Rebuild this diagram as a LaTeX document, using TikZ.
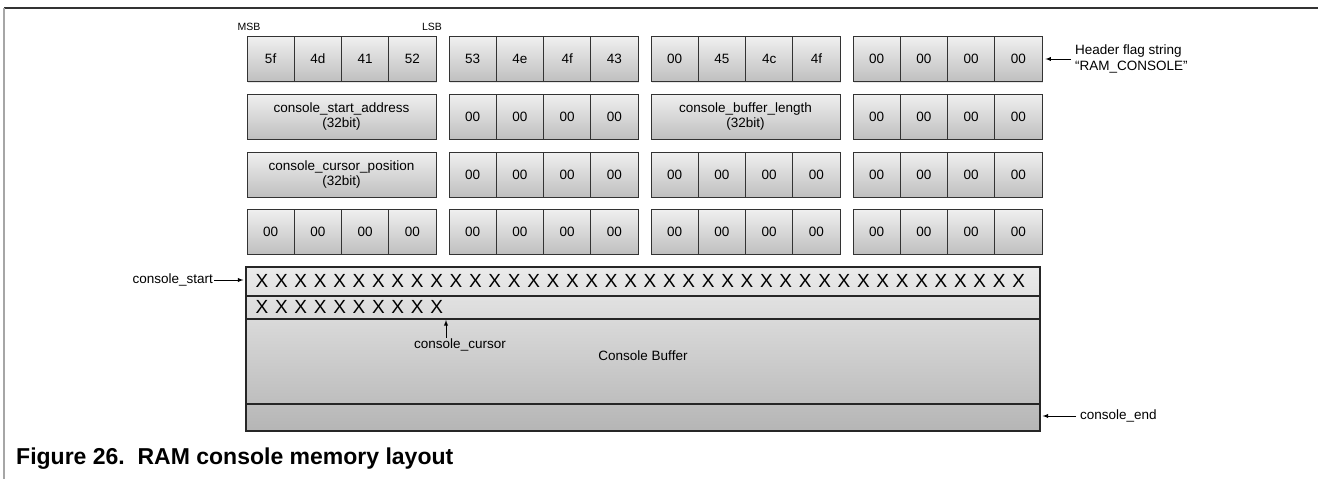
\documentclass[tikz,border=0pt]{standalone}
\usepackage{fontspec}
\setmainfont{Liberation Sans}
\usetikzlibrary{positioning,calc,arrows,shadows}
\tikzset{>=latex}
\tikzset{
  cellshade/.style={draw=black!80, line width=0.8pt, top color=black!6, bottom color=black!25,
    drop shadow={opacity=0.2, shadow xshift=1pt, shadow yshift=-1.2pt}},
  bytecell/.style={cellshade, minimum width=47.25pt, minimum height=45pt, inner sep=0pt,
    font=\fontsize{13.5}{15}\selectfont},
  fieldbox/.style={cellshade, minimum width=189pt, minimum height=45pt, inner sep=0pt,
    align=center, font=\fontsize{13.5}{15.5}\selectfont},
  note/.style={inner sep=0pt, font=\fontsize{13.5}{15.5}\selectfont},
  bitnote/.style={inner sep=0pt, font=\fontsize{10.5}{12}\selectfont},
  xmark/.style={inner sep=0pt, font=\fontsize{19}{20}\selectfont},
  pointer/.style={->, line width=0.9pt},
}

\begin{document}
\begin{tikzpicture}[x=1pt, y=-1pt]
  \useasboundingbox (0,0) rectangle (1318,479);
  % page frame
  \draw[black!80, line width=1.5pt] (4,8) -- (1318,8);
  \draw[black!35, line width=1.5pt] (4,8) -- (4,479);

  % header flag bytes
  \foreach \g/\gx/\bytes in {1/247/{5f,4d,41,52}, 2/449/{53,4e,4f,43},
    3/651/{00,45,4c,4f}, 4/853/{00,00,00,00}}
    \foreach \b [count=\j] in \bytes
      \node[bytecell] (a-\g-\j) at (\gx+47.25*\j-23.625, 59) {\b};
  \node[bitnote] (msb) at (249,27) {MSB};
  \node[bitnote] (lsb) at (432,27) {LSB};
  \node[note, anchor=west, align=left] (flag) at (1075,59) {Header flag string\\“RAM\_CONSOLE”};
  \draw[pointer, shorten <=4pt, shorten >=3pt] (flag.west) -- (a-4-4.east);

  % address, length and position fields
  \node[fieldbox] (startaddr) at (341.5,116.5) {console\_start\_address\\(32bit)};
  \node[fieldbox] (buflen) at (745.5,116.5) {console\_buffer\_length\\(32bit)};
  \node[fieldbox] (cursorpos) at (341.5,174.5) {console\_cursor\_position\\(32bit)};
  \foreach \g/\gx in {2/449, 4/853}
    \foreach \j in {1,...,4}
      \node[bytecell] (b-\g-\j) at (\gx+47.25*\j-23.625, 116.5) {00};
  \foreach \g/\gx in {2/449, 3/651, 4/853}
    \foreach \j in {1,...,4}
      \node[bytecell] (c-\g-\j) at (\gx+47.25*\j-23.625, 174.5) {00};
  \foreach \g/\gx in {1/247, 2/449, 3/651, 4/853}
    \foreach \j in {1,...,4}
      \node[bytecell] (d-\g-\j) at (\gx+47.25*\j-23.625, 231.5) {00};

  % console buffer
  \node[draw=black!85, line width=1.2pt, top color=black!8, bottom color=black!29,
    minimum width=794pt, minimum height=164pt, inner sep=0pt,
    drop shadow={opacity=0.2, shadow xshift=1pt, shadow yshift=-1.2pt}] (buffer) at (643,349) {};
  \foreach \ly in {296, 319, 404}
    \draw[black!85, line width=1.3pt] (buffer.west |- 0,\ly) -- (buffer.east |- 0,\ly);
  \foreach \i in {1,...,40}
    \node[xmark] (xa-\i) at (262+19.4*\i-19.4, 281) {X};
  \foreach \i in {1,...,10}
    \node[xmark] (xb-\i) at (262+19.4*\i-19.4, 307) {X};
  \node[note] (bufname) at (643,356) {Console Buffer};

  \node[note, anchor=east] (cstart) at (213,280) {console\_start};
  \draw[pointer, shorten <=1pt, shorten >=2pt] (cstart.east) -- (buffer.west |- cstart.east);
  \coordinate (cursorpt) at (446,320);
  \node[note] (ccursor) at (460,345) {console\_cursor};
  \draw[pointer, shorten <=1pt] (ccursor.north -| cursorpt) -- (cursorpt);
  \node[note, anchor=west] (cend) at (1080,416) {console\_end};
  \draw[pointer, shorten <=4pt, shorten >=2pt] (cend.west) -- (buffer.east |- cend.west);

  % caption
  \node[anchor=west, inner sep=0pt, font=\bfseries\fontsize{23}{25}\selectfont] (caption) at (16,459)
    {Figure 26.\ \ RAM console memory layout};
\end{tikzpicture}
\end{document}
